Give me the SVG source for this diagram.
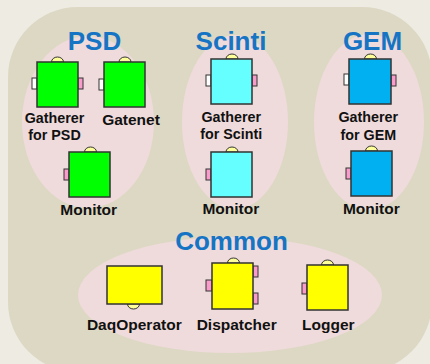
<svg xmlns="http://www.w3.org/2000/svg" width="430" height="364" viewBox="0 0 430 364">
  <defs>
    <style>
      .bg { fill: #EDEBE2; }
      .panel { fill: #DDD8C4; }
      .zone { fill: #EFDBDB; }
      .title { font-family: "Liberation Sans", Arial, sans-serif; font-weight: bold; font-size: 26px; fill: #1574C4; text-anchor: middle; }
      .lbl { font-family: "Liberation Sans", Arial, sans-serif; font-weight: bold; font-size: 15.5px; fill: #111; text-anchor: middle; }
      .lbl-s { font-family: "Liberation Sans", Arial, sans-serif; font-weight: bold; font-size: 14.3px; fill: #111; text-anchor: middle; }
      .box { stroke: #333; stroke-width: 1.5; }
      .psd { fill: #00FF00; }
      .sci { fill: #66FFFF; }
      .gem { fill: #00B0F0; }
      .com { fill: #FFFF00; }
      .cap { fill: #FFFF99; stroke: #333; stroke-width: 1; }
      .in { fill: #FFFFFF; stroke: #333; stroke-width: 1; }
      .out { fill: #F99CCB; stroke: #333; stroke-width: 1; }
    </style>
  </defs>

  <!-- background and grouping areas -->
  <rect class="bg" x="0" y="0" width="430" height="364"/>
  <rect class="panel" x="8" y="7" width="424" height="365" rx="70" ry="70"/>
  <ellipse class="zone" cx="88" cy="122" rx="66" ry="86"/>
  <ellipse class="zone" cx="235" cy="122" rx="53" ry="87"/>
  <ellipse class="zone" cx="369" cy="122" rx="55" ry="88"/>
  <ellipse class="zone" cx="230" cy="295" rx="152" ry="58"/>

  <!-- group titles -->
  <text class="title" x="94.5" y="50">PSD</text>
  <text class="title" x="231" y="50">Scinti</text>
  <text class="title" x="372.5" y="50">GEM</text>
  <text class="title" x="231.5" y="250">Common</text>

  <g id="connectors"></g>

  <!-- PSD components -->
  <g id="psd-gatherer">
    <path class="cap" d="M51.5,62 A6,5 0 0 1 63.5,62 Z"/>
    <rect class="in" x="32" y="78" width="5" height="11"/>
    <rect class="out" x="78" y="78" width="5" height="11"/>
    <rect class="box psd" x="37" y="62" width="41" height="45"/>
    <text class="lbl-s" x="54.5" y="123">Gatherer</text>
    <text class="lbl-s" x="54.5" y="140">for PSD</text>
  </g>
  <g id="psd-gatenet">
    <path class="cap" d="M119,62 A6,5 0 0 1 131,62 Z"/>
    <rect class="in" x="99" y="79" width="5" height="11"/>
    <rect class="box psd" x="104" y="62" width="41" height="45"/>
    <text class="lbl" x="131" y="125">Gatenet</text>
  </g>
  <g id="psd-monitor">
    <path class="cap" d="M84.5,152 A6,5 0 0 1 96.5,152 Z"/>
    <rect class="out" x="64" y="169" width="5" height="11"/>
    <rect class="box psd" x="69" y="152" width="41" height="45"/>
    <text class="lbl" x="88.7" y="215">Monitor</text>
  </g>

  <!-- Scinti components -->
  <g id="scinti-gatherer">
    <path class="cap" d="M226,59 A6,5 0 0 1 238,59 Z"/>
    <rect class="in" x="206" y="75" width="5" height="11"/>
    <rect class="out" x="252" y="75" width="5" height="11"/>
    <rect class="box sci" x="211" y="59" width="41" height="45"/>
    <text class="lbl-s" x="231.2" y="122">Gatherer</text>
    <text class="lbl-s" x="231.2" y="139">for Scinti</text>
  </g>
  <g id="scinti-monitor">
    <path class="cap" d="M226,152 A6,5 0 0 1 238,152 Z"/>
    <rect class="out" x="206" y="169" width="5" height="11"/>
    <rect class="box sci" x="211" y="152" width="41" height="45"/>
    <text class="lbl" x="230.8" y="214">Monitor</text>
  </g>

  <!-- GEM components -->
  <g id="gem-gatherer">
    <path class="cap" d="M364.5,59 A6,5 0 0 1 376.5,59 Z"/>
    <rect class="in" x="344" y="74" width="5" height="11"/>
    <rect class="out" x="391" y="75" width="5" height="11"/>
    <rect class="box gem" x="349" y="59" width="42" height="45"/>
    <text class="lbl-s" x="368.3" y="122">Gatherer</text>
    <text class="lbl-s" x="368.3" y="140">for GEM</text>
  </g>
  <g id="gem-monitor">
    <path class="cap" d="M365.5,151 A6,5 0 0 1 377.5,151 Z"/>
    <rect class="out" x="346" y="168" width="5" height="11"/>
    <rect class="box gem" x="351" y="151" width="41" height="45"/>
    <text class="lbl" x="371.3" y="214">Monitor</text>
  </g>

  <!-- Common components -->
  <g id="daqoperator">
    <path class="cap" d="M127.5,304 A6,5 0 0 0 139.5,304 Z"/>
    <rect class="box com" x="107" y="266" width="55" height="38"/>
    <text class="lbl" x="134.3" y="330">DaqOperator</text>
  </g>
  <g id="dispatcher">
    <path class="cap" d="M227.5,263 A6,5 0 0 1 239.5,263 Z"/>
    <rect class="out" x="206" y="280" width="6" height="11"/>
    <rect class="out" x="253" y="266" width="5" height="11"/>
    <rect class="out" x="253" y="293" width="5" height="11"/>
    <rect class="box com" x="212" y="263" width="41" height="46"/>
    <text class="lbl" x="236.7" y="330">Dispatcher</text>
  </g>
  <g id="logger">
    <path class="cap" d="M321.5,265 A6,5 0 0 1 333.5,265 Z"/>
    <rect class="out" x="302" y="283" width="5" height="11"/>
    <rect class="box com" x="307" y="265" width="41" height="45"/>
    <text class="lbl" x="328.3" y="330">Logger</text>
  </g>
</svg>
